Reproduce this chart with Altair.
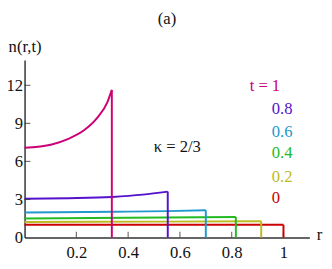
import altair as alt
import pandas as pd

# ---- data ----
t_labels = ["1", "0.8", "0.6", "0.4", "0.2", "0"]
colors = ["#cc0077", "#5511cc", "#2299cc", "#22bb22", "#bbbb22", "#cc0000"]

r_t10 = [0.0, 0.105, 0.169, 0.232, 0.282, 0.320, 0.337]
n_t10 = [7.08, 7.34, 7.78, 8.49, 9.47, 10.68, 11.64]
r_t08 = [0.0, 0.169, 0.338, 0.457, 0.553]
n_t08 = [3.05, 3.10, 3.20, 3.38, 3.62]
r_t06 = [0.0, 0.35, 0.55, 0.70]
n_t06 = [1.97, 2.03, 2.08, 2.15]
r_t04 = [0.0, 0.40, 0.816]
n_t04 = [1.50, 1.55, 1.62]
r_t02 = [0.0, 0.50, 0.914]
n_t02 = [1.22, 1.25, 1.28]
r_t00 = [0.0, 1.0]
n_t00 = [1.0, 1.0]

x_ticks = [0.2, 0.4, 0.6, 0.8, 1.0]
y_ticks = [0, 3, 6, 9, 12]

label_r = 0.955
label_n = [11.97, 10.12, 8.34, 6.64, 4.79, 3.09]
t_prefix_r = 0.94
kappa_text = "κ = 2/3"
kappa_pos = (0.59, 7.1)

FONT = "Liberation Serif"
FS = 17

series = [
    (r_t10, n_t10), (r_t08, n_t08), (r_t06, n_t06),
    (r_t04, n_t04), (r_t02, n_t02), (r_t00, n_t00),
]

rows, drops = [], []
for lab, (rs, ns) in zip(t_labels, series):
    for i, (r, n) in enumerate(zip(rs, ns)):
        rows.append({"t": lab, "r": r, "n": n, "i": i})
    drops.append({"t": lab, "r": rs[-1], "n": ns[-1]})
df = pd.DataFrame(rows)
ddf = pd.DataFrame(drops)

xs = alt.Scale(domain=[0, 1.1], nice=False, zero=False)
ys = alt.Scale(domain=[0, 14], nice=False)
cs = alt.Scale(domain=t_labels, range=colors)

W, H = 292, 182

axis_common = dict(grid=False, ticks=False, domainColor="#333333", domainWidth=1.5,
                   labelFont=FONT, labelFontSize=FS, labelColor="#111111",
                   titleFont=FONT, titleFontSize=FS, titleFontWeight="normal",
                   titleColor="#111111", format="~g")

curves = alt.Chart(df).mark_line(strokeWidth=2, interpolate="monotone").encode(
    x=alt.X("r:Q", scale=xs,
            axis=alt.Axis(values=x_ticks, labelPadding=8, title="r", titleAngle=0,
                          titleX=W + 7, titleY=-3, titleAlign="left",
                          titleBaseline="middle", **axis_common)),
    y=alt.Y("n:Q", scale=ys,
            axis=alt.Axis(values=y_ticks, labelPadding=2, title="n(r,t)", titleAngle=0,
                          titleX=0, titleY=-14, titleAlign="center",
                          titleBaseline="middle", labelBaseline="middle", **axis_common)),
    color=alt.Color("t:N", scale=cs, legend=None),
    detail="t:N",
    order="i:Q",
)

drops_layer = alt.Chart(ddf).mark_rule(strokeWidth=2).encode(
    x=alt.X("r:Q", scale=xs),
    y=alt.Y("n:Q", scale=ys),
    y2=alt.datum(0),
    color=alt.Color("t:N", scale=cs, legend=None),
)

xt = alt.Chart(pd.DataFrame({"v": x_ticks})).mark_tick(
    orient="vertical", size=6, thickness=1.2, color="#333333").encode(
    x=alt.X("v:Q", scale=xs), y=alt.value(H - 3))

yt = alt.Chart(pd.DataFrame({"v": y_ticks[1:]})).mark_tick(
    orient="horizontal", size=6, thickness=1.2, color="#333333").encode(
    y=alt.Y("v:Q", scale=ys), x=alt.value(3))

lab_df = pd.DataFrame({"t": t_labels, "r": [label_r] * 6, "n": label_n})
labels = alt.Chart(lab_df).mark_text(
    font=FONT, fontSize=FS, align="left", baseline="middle").encode(
    x=alt.X("r:Q", scale=xs), y=alt.Y("n:Q", scale=ys), text="t:N",
    color=alt.Color("t:N", scale=cs, legend=None))

pre_df = pd.DataFrame({"t": ["1"], "txt": ["t ="], "r": [t_prefix_r], "n": [label_n[0]]})
prefix = alt.Chart(pre_df).mark_text(
    font=FONT, fontSize=FS, align="right", baseline="middle").encode(
    x=alt.X("r:Q", scale=xs), y=alt.Y("n:Q", scale=ys), text="txt:N",
    color=alt.Color("t:N", scale=cs, legend=None))

k_df = pd.DataFrame({"txt": [kappa_text], "r": [kappa_pos[0]], "n": [kappa_pos[1]]})
kappa = alt.Chart(k_df).mark_text(
    font=FONT, fontSize=FS, align="center", baseline="middle", color="#111111").encode(
    x=alt.X("r:Q", scale=xs), y=alt.Y("n:Q", scale=ys), text="txt:N")

chart = alt.layer(curves, drops_layer, xt, yt, labels, prefix, kappa).properties(
    width=W, height=H,
    title=alt.TitleParams("(a)", font=FONT, fontSize=FS, fontWeight="normal",
                          color="#111111", anchor="middle", offset=10),
    autosize=alt.AutoSizeParams(type="none"),
    padding={"left": 17, "top": 50, "right": 15, "bottom": 29},
).configure_view(stroke=None)

chart.save("out.html", embed_options={"renderer": "svg", "actions": False})
